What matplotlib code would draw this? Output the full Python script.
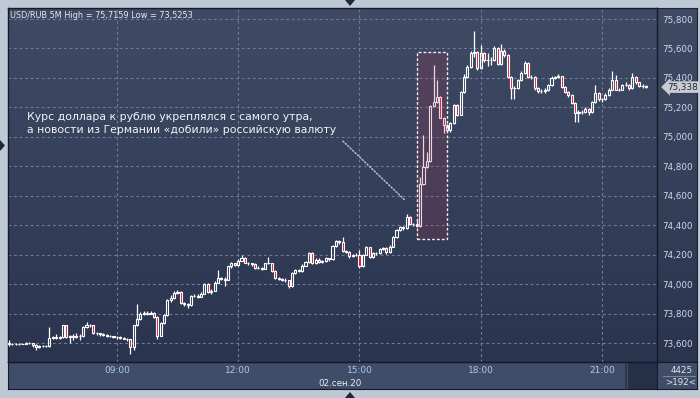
# USD/RUB 5-minute candles, 02.09.2020 — chart in the style of a trading terminal
import numpy as np
import pandas as pd
import matplotlib
matplotlib.use('Agg')
import matplotlib.pyplot as plt
from matplotlib.patches import Rectangle, Polygon
from matplotlib.colors import LinearSegmentedColormap
import matplotlib.transforms as mtransforms

# --- Data ---
first_open = 73.600
closes = [
    73.595, 73.590, 73.590, 73.595, 73.595, 73.600, 73.598, 73.585, 73.575, 73.578,
    73.580, 73.578, 73.635, 73.640, 73.635, 73.640, 73.720, 73.640, 73.645, 73.640,
    73.645, 73.650, 73.710, 73.725, 73.720, 73.665, 73.665, 73.660, 73.655, 73.650,
    73.645, 73.640, 73.640, 73.635, 73.630, 73.625, 73.575, 73.720, 73.760, 73.800,
    73.805, 73.800, 73.805, 73.775, 73.650, 73.735, 73.790, 73.890, 73.905, 73.940,
    73.945, 73.870, 73.865, 73.855, 73.920, 73.920, 73.915, 73.935, 74.000, 73.945,
    73.955, 74.010, 74.040, 74.035, 74.030, 74.120, 74.140, 74.130, 74.160, 74.180,
    74.145, 74.140, 74.135, 74.110, 74.110, 74.105, 74.140, 74.140, 74.090, 74.040,
    74.035, 74.030, 74.025, 73.985, 74.075, 74.095, 74.090, 74.125, 74.150, 74.210,
    74.140, 74.165, 74.150, 74.155, 74.175, 74.170, 74.260, 74.290, 74.285, 74.225,
    74.220, 74.190, 74.195, 74.200, 74.120, 74.200, 74.250, 74.185, 74.210, 74.210,
    74.235, 74.245, 74.215, 74.255, 74.320, 74.365, 74.385, 74.380, 74.455, 74.410,
    74.405, 74.395, 74.680, 74.795, 74.835, 75.210, 75.235, 75.270, 75.130, 75.080,
    75.045, 75.095, 75.215, 75.150, 75.305, 75.405, 75.475, 75.570, 75.575, 75.465,
    75.570, 75.520, 75.525, 75.520, 75.605, 75.495, 75.585, 75.555, 75.405, 75.330,
    75.330, 75.385, 75.435, 75.500, 75.405, 75.405, 75.330, 75.310, 75.310, 75.315,
    75.350, 75.400, 75.405, 75.410, 75.340, 75.305, 75.285, 75.230, 75.160, 75.170,
    75.170, 75.190, 75.170, 75.235, 75.300, 75.255, 75.255, 75.285, 75.320, 75.385,
    75.320, 75.320, 75.350, 75.355, 75.330, 75.405, 75.370, 75.345, 75.345, 75.338,
]
highs = [
    73.620, 73.600, 73.600, 73.600, 73.600, 73.610, 73.605, 73.600, 73.590, 73.585,
    73.585, 73.585, 73.710, 73.650, 73.660, 73.650, 73.725, 73.725, 73.655, 73.660,
    73.665, 73.660, 73.715, 73.745, 73.730, 73.725, 73.675, 73.670, 73.665, 73.660,
    73.655, 73.650, 73.645, 73.645, 73.640, 73.635, 73.630, 73.725, 73.865, 73.810,
    73.815, 73.815, 73.820, 73.810, 73.780, 73.740, 73.800, 73.900, 73.925, 73.950,
    73.960, 73.950, 73.880, 73.870, 73.925, 73.935, 73.930, 73.945, 74.005, 74.005,
    73.965, 74.020, 74.095, 74.045, 74.045, 74.125, 74.150, 74.145, 74.170, 74.195,
    74.185, 74.150, 74.145, 74.140, 74.120, 74.115, 74.145, 74.185, 74.145, 74.095,
    74.045, 74.040, 74.040, 74.030, 74.080, 74.100, 74.105, 74.135, 74.160, 74.215,
    74.215, 74.175, 74.180, 74.165, 74.185, 74.180, 74.265, 74.300, 74.300, 74.320,
    74.230, 74.225, 74.205, 74.210, 74.230, 74.205, 74.260, 74.255, 74.220, 74.220,
    74.245, 74.255, 74.250, 74.265, 74.330, 74.375, 74.395, 74.395, 74.475, 74.460,
    74.415, 74.445, 74.730, 75.010, 74.900, 75.215, 75.490, 75.385, 75.275, 75.135,
    75.085, 75.100, 75.225, 75.220, 75.310, 75.430, 75.490, 75.580, 75.716, 75.580,
    75.625, 75.575, 75.570, 75.540, 75.615, 75.610, 75.630, 75.595, 75.560, 75.410,
    75.345, 75.395, 75.445, 75.515, 75.505, 75.420, 75.410, 75.340, 75.325, 75.330,
    75.360, 75.410, 75.415, 75.430, 75.415, 75.345, 75.310, 75.290, 75.235, 75.180,
    75.185, 75.200, 75.195, 75.245, 75.350, 75.305, 75.265, 75.295, 75.330, 75.450,
    75.420, 75.335, 75.360, 75.370, 75.360, 75.435, 75.410, 75.375, 75.360, 75.350,
]
lows = [
    73.580, 73.585, 73.585, 73.585, 73.590, 73.590, 73.590, 73.575, 73.550, 73.565,
    73.570, 73.570, 73.575, 73.630, 73.630, 73.630, 73.635, 73.635, 73.600, 73.620,
    73.635, 73.620, 73.640, 73.705, 73.710, 73.660, 73.655, 73.650, 73.645, 73.640,
    73.640, 73.635, 73.630, 73.630, 73.625, 73.615, 73.525, 73.550, 73.715, 73.755,
    73.790, 73.790, 73.795, 73.770, 73.630, 73.645, 73.730, 73.780, 73.880, 73.900,
    73.930, 73.865, 73.850, 73.840, 73.850, 73.910, 73.905, 73.910, 73.930, 73.940,
    73.935, 73.950, 74.005, 74.025, 73.990, 74.025, 74.110, 74.120, 74.125, 74.155,
    74.140, 74.130, 74.125, 74.100, 74.100, 74.095, 74.100, 74.135, 74.085, 74.035,
    74.025, 74.020, 74.015, 73.975, 73.980, 74.070, 74.080, 74.085, 74.120, 74.145,
    74.135, 74.135, 74.140, 74.145, 74.150, 74.160, 74.165, 74.255, 74.275, 74.220,
    74.210, 74.180, 74.185, 74.190, 74.110, 74.115, 74.195, 74.175, 74.180, 74.200,
    74.205, 74.230, 74.205, 74.210, 74.250, 74.315, 74.360, 74.370, 74.375, 74.405,
    74.395, 74.390, 74.390, 74.675, 74.790, 74.830, 75.205, 75.230, 75.125, 75.025,
    75.030, 75.035, 75.090, 75.140, 75.145, 75.300, 75.400, 75.470, 75.540, 75.455,
    75.460, 75.510, 75.480, 75.490, 75.515, 75.490, 75.490, 75.545, 75.400, 75.255,
    75.255, 75.325, 75.380, 75.430, 75.400, 75.395, 75.320, 75.300, 75.300, 75.295,
    75.310, 75.345, 75.395, 75.400, 75.335, 75.295, 75.270, 75.220, 75.100, 75.100,
    75.155, 75.160, 75.150, 75.165, 75.230, 75.245, 75.240, 75.250, 75.280, 75.315,
    75.315, 75.310, 75.315, 75.345, 75.320, 75.325, 75.360, 75.340, 75.335, 75.330,
]
times = pd.date_range('2020-09-02 06:20', periods=len(closes), freq='5min')
time_labels = ['09:00', '12:00', '15:00', '18:00', '21:00']
price_ticks = [73.6, 73.8, 74.0, 74.2, 74.4, 74.6, 74.8, 75.0, 75.2, 75.4, 75.6, 75.8]
hl_first, hl_last = 122, 129   # candles inside the highlighted box
pointer_candle = 117           # candle the dotted pointer heads to

title_text = 'USD/RUB 5M High = 75,7159 Low = 73,5253'
note_text = ('Курс доллара к рублю укреплялся с самого утра,\n'
             'а новости из Германии «добили» российскую валюту')
date_label = '02.сен.20'
bars_total = '4425'
bars_shown = '>192<'

# --- Colours ---
RED = '#e3103c'
GRID = '#6d7d99'
bg_cmap = LinearSegmentedColormap.from_list('bg', ['#3f4b65', '#2a344f'])
gradient = np.linspace(0, 1, 256).reshape(-1, 1)

W, H = 700, 398
fig = plt.figure(figsize=(W / 100, H / 100), dpi=100)
fig.patch.set_facecolor('#bfc9d6')

def px_rect(x0, y0, x1, y1):
    # pixel box (top-left origin) -> figure fraction rect
    return [x0 / W, 1 - y1 / H, (x1 - x0) / W, (y1 - y0) / H]

# right price panel (behind main axes so the tick labels stay visible)
ax_r = fig.add_axes(px_rect(657, 8, 697, 362), zorder=0)
ax_r.imshow(gradient, extent=[0, 1, 0, 1], aspect='auto', cmap=bg_cmap, transform=ax_r.transAxes)
ax_r.set_xlim(0, 1); ax_r.set_ylim(0, 1)
ax_r.set_xticks([]); ax_r.set_yticks([])
for s in ax_r.spines.values():
    s.set_color('#1c2233')

# main chart
ax = fig.add_axes(px_rect(8, 8, 657, 362), zorder=2)
ax.imshow(gradient, extent=[0, 1, 0, 1], aspect='auto', cmap=bg_cmap,
          transform=ax.transAxes, zorder=0)

x = np.arange(len(closes))
c = np.array(closes)
o = np.array([first_open] + closes[:-1])
h = np.array(highs)
l = np.array(lows)
top = np.maximum(o, c)
bot = np.minimum(o, c)
up = c >= o

ax.vlines(x, top, h, color='white', lw=0.9, zorder=3)
ax.vlines(x, l, bot, color='white', lw=0.9, zorder=3)
ax.bar(x, top - bot, bottom=bot, width=0.62,
       color=['none' if u else RED for u in up],
       edgecolor='white', linewidth=0.8, zorder=4)

# grid
tick_pos = [i for i, t in enumerate(times) if t.strftime('%H:%M') in time_labels]
for p in tick_pos:
    ax.axvline(p, color=GRID, lw=0.8, ls=(0, (2.5, 2.5)), zorder=1)
for p in price_ticks:
    ax.axhline(p, color=GRID, lw=0.8, ls=(0, (2.5, 2.5)), zorder=1)

ax.set_xlim(-0.3, 192.3)
ax.set_ylim(73.471, 75.875)

# right-side price labels
ax.yaxis.tick_right()
ax.set_yticks(price_ticks)
ax.set_yticklabels([f'{p:.3f}'.replace('.', ',') for p in price_ticks])
ax.tick_params(axis='y', length=0, pad=4, labelsize=6.3, labelcolor='#d3d9e6')
ax.set_xticks([])
for s in ax.spines.values():
    s.set_color('#151a26')
    s.set_linewidth(1)

# highlighted spike
x0 = hl_first - 1.0
x1 = hl_last + 1.0
y0 = min(lows[hl_first:hl_last + 1]) - 0.085
y1 = max(highs[hl_first:hl_last + 1]) + 0.085
ax.add_patch(Rectangle((x0, y0), x1 - x0, y1 - y0, facecolor='#b03050', alpha=0.2,
                       edgecolor='none', zorder=5))
ax.add_patch(Rectangle((x0, y0), x1 - x0, y1 - y0, facecolor='none',
                       edgecolor='#f0f0f0', lw=1, ls=(0, (2, 1.5)), zorder=6))

# title and note
ax.text(0.003, 0.980, title_text, transform=ax.transAxes, fontsize=5.9,
        color='#e6ebf3', va='center', ha='left', zorder=7)
ax.text(0.029, 0.674, note_text, transform=ax.transAxes, fontsize=7.8,
        color='#f2f4f8', va='center', ha='left', linespacing=1.3, zorder=7)
ax.annotate('', xy=(pointer_candle + 0.5, closes[pointer_candle] + 0.19),
            xytext=(0.516, 0.624), textcoords='axes fraction',
            arrowprops=dict(arrowstyle='-', color='#c3cad8', lw=1,
                            ls=(0, (1, 1.4)), shrinkA=0, shrinkB=0), zorder=7)

# last price marker
trans = mtransforms.blended_transform_factory(ax.transAxes, ax.transData)
ax.text(1.016, closes[-1], f'{closes[-1]:.3f}'.replace('.', ','), transform=trans,
        fontsize=6.3, color='#1f2535', va='center', ha='left', zorder=8,
        bbox=dict(boxstyle='larrow,pad=0.15', fc='#c9ccd2', ec='none'),
        clip_on=False)

# bottom time strip
ax_b = fig.add_axes(px_rect(8, 362, 657, 389), zorder=1)
ax_b.set_facecolor('#404d68')
ax_b.set_xlim(ax.get_xlim()); ax_b.set_ylim(0, 1)
ax_b.set_xticks([]); ax_b.set_yticks([])
for s in ax_b.spines.values():
    s.set_color('#151a26')
for p, t in zip(tick_pos, [times[p].strftime('%H:%M') for p in tick_pos]):
    ax_b.text(p, 0.68, t, fontsize=6.5, color='#a7c9ef', ha='center', va='center')
ax_b.text(0.511, 0.22, date_label, transform=ax_b.transAxes, fontsize=6.3,
          color='#e8ecf3', ha='center', va='center')
ax_b.add_patch(Rectangle((0.955, 0.0), 0.045, 1.0, transform=ax_b.transAxes,
                         facecolor='#263149', edgecolor='none'))
ax_b.axvline(0.952 * (ax.get_xlim()[1] - ax.get_xlim()[0]) + ax.get_xlim()[0],
             color='#2c3447', lw=1.2)

# bottom-right counter box
ax_c = fig.add_axes(px_rect(657, 362, 697, 389), zorder=1)
ax_c.set_facecolor('#404d68')
ax_c.set_xticks([]); ax_c.set_yticks([])
ax_c.set_xlim(0, 1); ax_c.set_ylim(0, 1)
for s in ax_c.spines.values():
    s.set_color('#151a26')
ax_c.text(0.62, 0.70, bars_total, fontsize=6.3, color='#dfe5ee', ha='center', va='center')
ax_c.plot([0.15, 0.95], [0.47, 0.47], color='#8090a8', lw=0.6)
ax_c.text(0.6, 0.24, bars_shown, fontsize=6.3, color='#dfe5ee', ha='center', va='center')

# scroll markers on the frame
for pts in ([(345 / W, 1.0), (355 / W, 1.0), (350 / W, 1 - 6 / H)],
            [(345 / W, 0.0), (355 / W, 0.0), (350 / W, 6 / H)],
            [(0.0, 1 - 140 / H), (0.0, 1 - 151 / H), (5 / W, 1 - 145.5 / H)]):
    fig.add_artist(Polygon(pts, closed=True, transform=fig.transFigure,
                           facecolor='#1e2638', edgecolor='none'))

plt.savefig('out.png', dpi=100)
